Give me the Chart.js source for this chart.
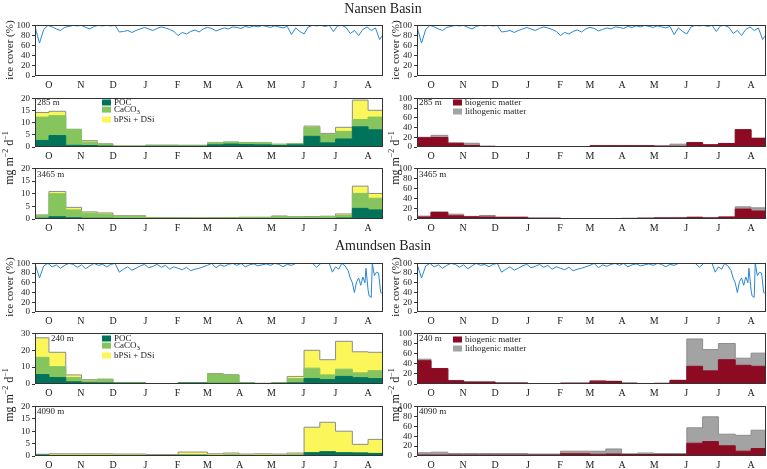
<!DOCTYPE html>
<html lang="en">
<head>
<meta charset="UTF-8">
<title>Nansen and Amundsen Basin fluxes</title>
<script src="https://cdn.jsdelivr.net/npm/chart.js"></script>
<style>
  body { margin:0; width:767px; height:469px; position:relative; overflow:hidden; background:#fff;
         font-family:"Liberation Serif", "DejaVu Serif", serif; color:#222; }
  canvas { position:absolute; }
  .t { position:absolute; white-space:nowrap; transform:translate(-50%,-50%); }
  .rot { transform:translate(-50%,-50%) rotate(-90deg); }
  .lab { position:absolute; font-size:9px; white-space:nowrap; transform:translateY(-50%); line-height:9px; }
  .sw { display:inline-block; width:9px; height:6px; margin-right:3px; vertical-align:-1px; }
</style>
</head>
<body>
<script>
// month labels (mid-month, days since 1 Oct)
const months = ['O','N','D','J','F','M','A','M','J','J','A'];
const monthMid = [15, 45.5, 76, 107, 137.5, 166, 196.5, 227, 257.5, 288, 319];

// sampling interval starts (days since 1 Oct), last value = end of last cup
const cupStart = [0,15,31,46,61,76,107,138,166,181,196,211,227,242,258,273,288,304,319,334];

// Nansen Basin, 285 m and 3465 m (mg m-2 d-1)
const nPOC285  = [2.7,4.7,0.7,0.6,0.4,0.2,0.3,0.3,0.9,1.2,1.0,0.9,0.6,0.9,4.4,1.7,3.3,8.3,7.1];
const nCa285   = [9.6,8.2,6.5,1.4,0.8,0.2,0.4,0.35,0.8,0.8,0.8,0.8,0.5,0.5,3.6,3.4,3.1,3.0,5.2];
const nSi285   = [1.9,1.8,0.1,0.6,0.1,0.05,0.05,0.05,0.05,0.05,0.05,0.05,0.05,0.05,0.6,0.5,1.7,8.0,2.8];
const nPOC3465 = [0.3,0.9,0.5,0.3,0.3,0.2,0.1,0.1,0.1,0.1,0.1,0.1,0.2,0.2,0.2,0.2,0.4,4.2,3.6];
const nCa3465  = [1.0,9.1,3.1,2.0,1.6,0.9,0.4,0.3,0.4,0.4,0.5,0.5,0.8,0.6,0.6,0.7,1.0,5.9,4.6];
const nSi3465  = [0.3,0.9,1.0,0.5,0.5,0.2,0.1,0.1,0.1,0.1,0.1,0.1,0.2,0.1,0.2,0.2,0.6,2.9,1.9];
const nBio285  = [19,19.5,7.7,3.2,1.3,0.6,0.6,0.6,2.5,2.5,2.5,2.5,1.8,1.5,9,4.5,7.1,35.5,17.4];
const nLith285 = [1,4.5,0.7,4.5,0.3,0.4,0.4,0.4,0.5,0.5,0.5,0.5,0.3,4.3,0.3,0.3,0.3,0.5,1.3];
const nBio3465 = [3.8,13,6.3,4.2,3.8,3,1.5,0.6,0.6,0.6,1,1.5,2,2,3,2,3.8,19.6,15.8];
const nLith3465= [1.9,1,3.2,1,3.2,1,0.5,0.4,0.4,0.4,0.5,0.5,1,1,1,1,0.3,4.4,6.2];

// Amundsen Basin, 240 m and 4090 m
const aPOC240  = [5.6,3.8,1.3,0.75,0.7,0.5,0.1,0.6,0.4,0.4,0.4,0.3,0.4,0.7,3.2,2.6,4.5,3.75,3.2];
const aCa240   = [10.2,6.5,2.5,1.1,1.9,0.3,0.05,0.1,5.6,4.9,0.3,0.05,0.3,2.5,6.2,2.8,4.3,2.85,4.7];
const aSi240   = [11.6,8.5,1.6,0.7,0.3,0.1,0.05,0.05,0.2,0.2,0.05,0.05,0.05,1.3,10.6,9.0,16.5,12.5,10.9];
const aPOC4090 = [0.4,0.2,0.2,0.2,0.2,0.2,0.2,0.3,0.2,0.3,0.2,0.2,0.2,0.3,1.3,1.7,1.3,1.2,1.0];
const aCa4090  = [0.1,0.1,0.1,0.1,0.1,0.1,0.1,0.2,0.1,0.1,0.1,0.1,0.1,0.1,0.1,0.1,0.1,0.1,0.1];
const aSi4090  = [0.2,0.6,0.6,0.6,0.6,0.5,0.3,1.1,0.6,0.8,0.5,0.6,0.5,0.8,10.2,11.8,8.6,3.4,5.6];
const aBio240  = [46,30.4,6.3,3.8,3.8,2,0.5,1.5,5.5,5,1.5,0.8,1.2,7,35,26,48,37,35];
const aLith240 = [3,0.3,0.7,0.3,0.3,0.2,0.1,0.5,0.8,0.6,0.5,0.3,0.4,0.5,54,42,32,14,26];
const aBio4090 = [2,2,2,2,2,2,2,4.5,3.5,4,3,3,3,3,25.8,29,20.6,9.7,15];
const aLith4090= [4.5,5.7,3,3,3,3,2,5.2,6.2,10.2,1.5,3,2,2,31,50,23.4,32,37];

// sea ice cover (%)
const iceDaysN = [2,6,10,14,18,22,26,30,34,38,42,46,50,54,58,62,66,70,74,78,82,86,90,94,98,102,106,110,114,118,122,126,130,134,138,142,146,150,154,158,162,166,170,174,178,182,186,190,194,198,202,206,210,214,218,222,226,230,234,238,242,246,250,254,258,262,266,270,274,278,282,286,290,294,298,302,306,310,314,318,322,326,330,334];
const iceN = [95,65,92,100,97,93,90,96,98,100,99,100,96,93,98,100,99,100,99,100,87,88,90,86,90,93,96,93,90,94,97,95,92,88,80,86,83,88,91,87,93,96,94,89,92,95,93,97,96,94,98,96,99,97,100,98,96,99,97,95,98,82,95,88,83,97,100,99,100,98,100,88,99,100,96,84,90,80,92,97,90,95,72,84];
const iceDaysA = [2,6,10,14,18,22,26,30,34,38,42,46,50,54,58,62,66,70,74,78,82,86,90,94,98,102,106,110,114,118,122,126,130,134,138,142,146,150,154,158,162,166,170,174,178,182,186,190,194,198,202,206,210,214,218,222,226,230,234,238,242,246,250,254,258,262,266,270,274,278,282,285,288,291,294,297,300,302,304,306,308,310,312,314,316,317,319,320,322,323,325,327,329,331,333];
const iceA = [97,70,95,100,93,97,90,96,100,98,92,97,89,95,100,96,98,93,98,100,82,88,93,86,90,95,98,91,94,98,92,96,88,93,90,87,92,85,88,90,93,96,100,91,97,94,98,100,96,100,93,97,99,95,97,99,96,100,98,93,98,96,100,100,100,100,100,92,100,100,100,82,93,88,100,95,85,70,60,40,62,70,55,72,60,90,45,33,30,100,75,82,80,40,38];

const cols = [{l:35, r:383}, {l:417, r:766}];
const AXW = 34, PADT = 6, PADR = 3, XH = 16;

const frame = {
  id: 'frame',
  afterDatasetsDraw(c) {
    const a = c.chartArea, ctx = c.ctx;
    ctx.save();
    ctx.strokeStyle = '#333';
    ctx.lineWidth = 1;
    ctx.strokeRect(Math.round(a.left) + 0.5, Math.round(a.top) + 0.5,
                   Math.round(a.right - a.left) - 1, Math.round(a.bottom - a.top) - 1);
    ctx.restore();
  }
};

function steps(vals) {
  return cupStart.map((d, i) => ({ x: d, y: vals[Math.min(i, vals.length - 1)] }));
}

function stackSets(series) {
  return series.map((s, i) => ({
    data: steps(s.vals),
    backgroundColor: s.color,
    borderColor: i === series.length - 1 ? '#8d8d8d' : s.color,
    borderWidth: 1,
    fill: i === 0 ? 'origin' : '-1',
    stepped: true,
    pointRadius: 0
  }));
}

function panel(col, top, bottom, datasets, ymax, ystep, stacked) {
  const c = cols[col];
  const cv = document.createElement('canvas');
  const w = AXW + (c.r - c.l) + PADR, h = PADT + (bottom - top) + XH;
  cv.width = w; cv.height = h;
  cv.style.left = (c.l - AXW) + 'px';
  cv.style.top = (top - PADT) + 'px';
  document.body.appendChild(cv);
  new Chart(cv.getContext('2d'), {
    type: 'line',
    data: { datasets },
    options: {
      responsive: false,
      animation: false,
      events: [],
      layout: { padding: { top: PADT, right: PADR, left: 0, bottom: 0 } },
      plugins: { legend: { display: false }, tooltip: { enabled: false } },
      scales: {
        x: {
          type: 'linear', min: 1.7, max: 333.2,
          afterBuildTicks: s => { s.ticks = monthMid.map(v => ({ value: v })); },
          afterFit: s => { s.height = XH; },
          ticks: { callback: (v, i) => months[i], autoSkip: false, maxRotation: 0, padding: 3,
                   color: '#222', font: { family: 'Liberation Serif', size: 10 } },
          grid: { display: false, drawTicks: false },
          border: { display: false }
        },
        y: {
          stacked: stacked, min: 0, max: ymax,
          afterFit: s => { s.width = AXW; },
          ticks: { stepSize: ystep, padding: 2, color: '#222', autoSkip: false,
                   font: { family: 'Liberation Serif', size: 9 } },
          grid: { drawOnChartArea: false, drawTicks: true, tickLength: 3, color: '#333' },
          border: { display: false }
        }
      }
    },
    plugins: [frame]
  });
}

const C = { poc: '#00735a', ca: '#86c45e', si: '#fbf65a', bio: '#8c0a22', lith: '#a3a3a3', ice: '#2a86d2' };

function iceSet(days, vals) {
  return [{ data: days.map((d, i) => ({ x: d, y: vals[i] })), borderColor: C.ice, borderWidth: 1,
            pointRadius: 0, fill: false, tension: 0 }];
}
function orgSets(p, ca, si) {
  return stackSets([{ vals: p, color: C.poc }, { vals: ca, color: C.ca }, { vals: si, color: C.si }]);
}
function matSets(b, l) {
  return stackSets([{ vals: b, color: C.bio }, { vals: l, color: C.lith }]);
}

// Nansen Basin
for (const col of [0, 1]) panel(col, 24, 76, iceSet(iceDaysN, iceN), 100, 20, false);
panel(0, 97, 147, orgSets(nPOC285, nCa285, nSi285), 20, 5, true);
panel(0, 167, 219, orgSets(nPOC3465, nCa3465, nSi3465), 20, 5, true);
panel(1, 97, 147, matSets(nBio285, nLith285), 100, 20, true);
panel(1, 167, 219, matSets(nBio3465, nLith3465), 100, 20, true);

// Amundsen Basin
for (const col of [0, 1]) panel(col, 262, 312, iceSet(iceDaysA, iceA), 100, 20, false);
panel(0, 332, 384, orgSets(aPOC240, aCa240, aSi240), 30, 10, true);
panel(0, 405, 456, orgSets(aPOC4090, aCa4090, aSi4090), 20, 5, true);
panel(1, 332, 384, matSets(aBio240, aLith240), 100, 20, true);
panel(1, 405, 456, matSets(aBio4090, aLith4090), 100, 20, true);

// text overlays
function txt(html, x, y, cls, size) {
  const d = document.createElement('div');
  d.className = cls;
  d.style.left = x + 'px'; d.style.top = y + 'px';
  if (size) d.style.fontSize = size + 'px';
  d.innerHTML = html;
  document.body.appendChild(d);
}
txt('Nansen Basin', 383, 9, 't', 14);
txt('Amundsen Basin', 383, 246, 't', 14);
const unit = 'mg m<sup style="font-size:8px">\u22122</sup> d<sup style="font-size:8px">\u22121</sup>';
for (const x of [9, 395]) {
  txt('ice cover (%)', x, 50, 't rot', 11);
  txt('ice cover (%)', x, 287, 't rot', 11);
  txt(unit, x, 158, 't rot', 12);
  txt(unit, x, 395, 't rot', 12);
}
txt('285 m', 37, 102, 'lab');
txt('3465 m', 37, 174, 'lab');
txt('285 m', 419, 102, 'lab');
txt('3465 m', 419, 174, 'lab');
txt('240 m', 51, 338, 'lab');
txt('4090 m', 37, 411, 'lab');
txt('240 m', 419, 338, 'lab');
txt('4090 m', 419, 411, 'lab');

function legend(x, y, items) {
  items.forEach((it, i) => txt('<span class="sw" style="background:' + it[1] + '"></span>' + it[0], x, y + i * 8.5, 'lab'));
}
const orgLeg = [['POC', C.poc], ['CaCO<sub style="font-size:7px">3</sub>', C.ca], ['bPSi + DSi', C.si]];
const matLeg = [['biogenic matter', C.bio], ['lithogenic matter', C.lith]];
legend(102, 102, orgLeg);
legend(102, 338, orgLeg);
legend(453, 102, matLeg);
legend(453, 339, matLeg);
</script>
</body>
</html>
